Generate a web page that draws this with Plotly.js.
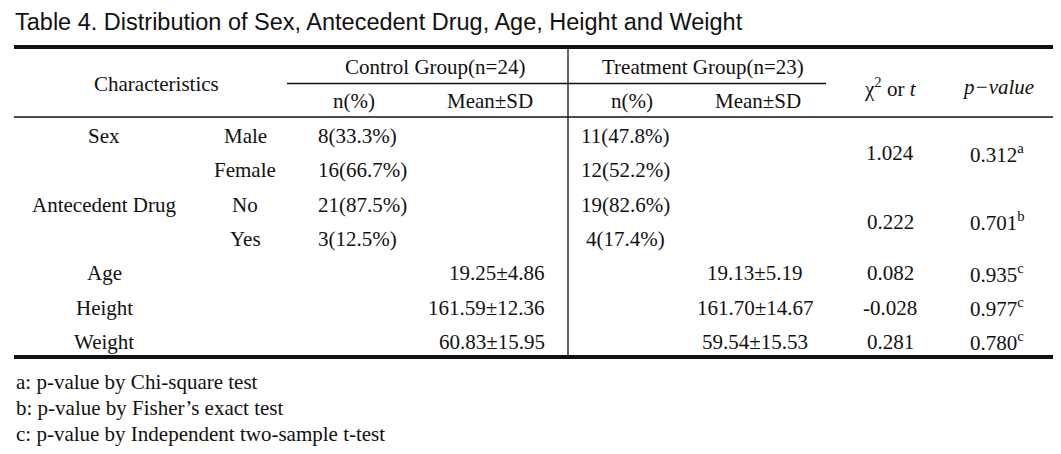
<!DOCTYPE html>
<html>
<head>
<meta charset="utf-8">
<script src="https://cdn.plot.ly/plotly-3.0.1.min.js"></script>
<style>
  body { margin: 0; background: #fff; }
  #table4 { width: 1061px; height: 454px; }
</style>
</head>
<body>
<div id="table4"></div>
<script>
// table contents
var title = "Table 4. Distribution of Sex, Antecedent Drug, Age, Height and Weight";
var groupNames = ["Control Group(n=24)", "Treatment Group(n=23)"];
var subHeads = ["n(%)", "Mean\u00b1SD", "n(%)", "Mean\u00b1SD"];
var rowLabels = ["Sex", "", "Antecedent Drug", "", "Age", "Height", "Weight"];
var subLabels = ["Male", "Female", "No", "Yes", "", "", ""];
var controlN = ["8(33.3%)", "16(66.7%)", "21(87.5%)", "3(12.5%)", "", "", ""];
var controlMean = ["", "", "", "", "19.25\u00b14.86", "161.59\u00b112.36", "60.83\u00b115.95"];
var treatN = ["11(47.8%)", "12(52.2%)", "19(82.6%)", "4(17.4%)", "", "", ""];
var treatMean = ["", "", "", "", "19.13\u00b15.19", "161.70\u00b114.67", "59.54\u00b115.53"];
var statVals = ["1.024", null, "0.222", null, "0.082", "-0.028", "0.281"];
var pVals = ["0.312", null, "0.701", null, "0.935", "0.977", "0.780"];
var pMarks = ["a", null, "b", null, "c", "c", "c"];
var rowSpan = [2, 0, 2, 0, 1, 1, 1];
var footnotes = [
  "a: p-value by Chi-square test",
  "b: p-value by Fisher\u2019s exact test",
  "c: p-value by Independent two-sample t-test"
];

var serif = "Liberation Serif, Times New Roman, serif";
var sans = "Liberation Sans, Arial, sans-serif";
var ink = "#111";
var left = 14, right = 1053;
var rowY0 = 136, rowH = 34.3;

var ann = [];
function txt(x, y, s, opt) {
  opt = opt || {};
  ann.push({
    x: x, y: y, xref: "x", yref: "y", text: s, showarrow: false,
    xanchor: opt.anchor || "center", yanchor: "middle",
    font: {family: opt.family || serif, size: opt.size || 21, color: ink}
  });
}

txt(left - 1, 22, title, {anchor: "left", family: sans, size: 23.5});

// header
txt(156, 84, "Characteristics");
txt(435, 67, groupNames[0]);
txt(703, 67, groupNames[1]);
txt(890, 87, "\u03c7<sup>2</sup> or <i>t</i>");
txt(998, 87, "<i>p\u2212value</i>");
var subX = [354, 490, 632, 758];
subHeads.forEach(function (h, i) { txt(subX[i], 101, h); });

// body
rowLabels.forEach(function (lab, i) {
  var y = rowY0 + i * rowH;
  if (lab) txt(104, y, lab);
  if (subLabels[i]) txt(245, y, subLabels[i]);
  if (controlN[i]) txt(316, y, controlN[i], {anchor: "left"});
  if (controlMean[i]) txt(547, y, controlMean[i], {anchor: "right"});
  if (treatN[i]) txt(625, y, treatN[i]);
  if (treatMean[i]) txt(755, y, treatMean[i]);
  if (rowSpan[i] > 0) {
    var yc = y + (rowSpan[i] - 1) * rowH / 2;
    txt(890, yc, statVals[i]);
    txt(997, yc, pVals[i] + "<sup>" + pMarks[i] + "</sup>");
  }
});

footnotes.forEach(function (f, i) { txt(left, 382 + i * 26, f, {anchor: "left"}); });

function hline(y, x0, x1, w) {
  return {type: "line", xref: "x", yref: "y", x0: x0, x1: x1, y0: y, y1: y,
          line: {color: ink, width: w}};
}
var shapes = [
  hline(47, left, right, 4),
  hline(83.5, 287, 826, 1.3),
  hline(117, left, right, 1.3),
  hline(357, left, right, 4),
  {type: "line", xref: "x", yref: "y", x0: 568, x1: 568, y0: 49, y1: 355,
   line: {color: ink, width: 1.3}}
];

var layout = {
  width: 1061, height: 454,
  margin: {l: 0, r: 0, t: 0, b: 0},
  paper_bgcolor: "#fff", plot_bgcolor: "#fff",
  xaxis: {range: [0, 1061], visible: false, fixedrange: true},
  yaxis: {range: [454, 0], visible: false, fixedrange: true},
  showlegend: false,
  annotations: ann,
  shapes: shapes
};

Plotly.newPlot("table4", [], layout, {staticPlot: true});
</script>
</body>
</html>
